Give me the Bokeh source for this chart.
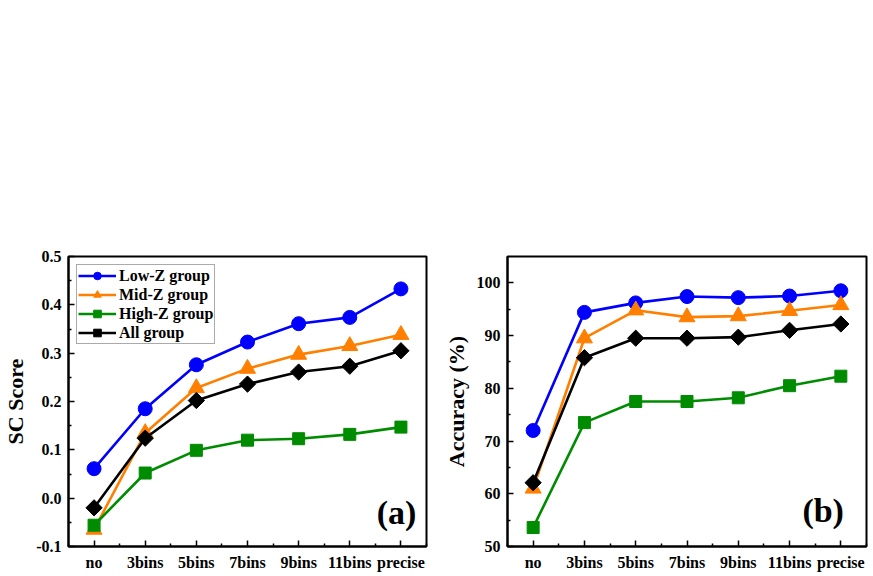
import math
from bokeh.plotting import figure
from bokeh.layouts import column, row
from bokeh.models import Spacer, FixedTicker, NumeralTickFormatter, Label
from bokeh.embed import file_html
from bokeh.resources import INLINE

categories = ["no", "3bins", "5bins", "7bins", "9bins", "11bins", "precise"]
series_names = ["Low-Z group", "Mid-Z group", "High-Z group", "All group"]

sc_low = [0.061, 0.185, 0.276, 0.323, 0.361, 0.374, 0.433]
sc_mid = [-0.065, 0.135, 0.228, 0.268, 0.297, 0.315, 0.338]
sc_high = [-0.056, 0.052, 0.099, 0.120, 0.123, 0.132, 0.147]
sc_all = [-0.020, 0.124, 0.202, 0.236, 0.261, 0.273, 0.305]

acc_low = [72.0, 94.4, 96.2, 97.4, 97.2, 97.5, 98.5]
acc_mid = [61.0, 89.5, 94.8, 93.5, 93.7, 94.7, 95.8]
acc_high = [53.6, 73.5, 77.5, 77.5, 78.2, 80.5, 82.3]
acc_all = [62.1, 85.8, 89.5, 89.5, 89.7, 91.0, 92.2]

sc_ticks = [-0.1, 0.0, 0.1, 0.2, 0.3, 0.4, 0.5]
acc_ticks = [50, 60, 70, 80, 90, 100]

COLORS = ["#0000ff", "#ff7f00", "#008c00", "#000000"]
MARKERS = [("circle", 14, 0), ("triangle", 16, 0), ("square", 12, 0), ("square", 11.5, math.pi / 4)]
FONT = "Liberation Serif"


def make_fig(data, yrange, yticks, yminor, ylabel, fmt, panel, panel_xy, width, border_right, legend):
    p = figure(width=width, height=350, x_range=(-0.5, 6.5), y_range=yrange,
               output_backend="svg", toolbar_location=None,
               min_border_left=62, min_border_right=border_right,
               min_border_top=30, min_border_bottom=30)
    p.grid.visible = False
    p.outline_line_color = "black"
    p.outline_line_width = 2
    p.background_fill_color = "white"
    p.border_fill_color = "white"

    xs = list(range(len(categories)))
    for (vals, name, color, (mk, sz, ang)) in zip(data, series_names, COLORS, MARKERS):
        kw = dict(legend_label=name) if legend else {}
        p.line(xs, vals, line_color=color, line_width=2.6, **kw)
        p.scatter(xs, vals, marker=mk, size=sz, angle=ang, fill_color=color,
                  line_color=color, line_width=1, **kw)

    p.xaxis.ticker = FixedTicker(ticks=xs, minor_ticks=[i + 0.5 for i in range(-1, 7)])
    p.xaxis.major_label_overrides = {i: c for i, c in enumerate(categories)}
    p.yaxis.ticker = FixedTicker(ticks=yticks, minor_ticks=yminor)
    p.yaxis.formatter = NumeralTickFormatter(format=fmt)
    p.yaxis.axis_label = ylabel

    for ax in (p.xaxis[0], p.yaxis[0]):
        ax.axis_line_width = 2
        ax.axis_line_color = "black"
        ax.major_tick_in = 6
        ax.major_tick_out = 0
        ax.minor_tick_in = 3
        ax.minor_tick_out = 0
        ax.major_tick_line_width = 1.5
        ax.minor_tick_line_width = 1.5
        ax.major_label_text_font = FONT
        ax.major_label_text_font_style = "bold"
        ax.major_label_text_font_size = "16px"
        ax.major_label_text_color = "black"
        ax.major_label_standoff = 7
        ax.axis_label_text_font = FONT
        ax.axis_label_text_font_style = "bold"
        ax.axis_label_text_font_size = "22px"
        ax.axis_label_text_color = "black"
        ax.axis_label_standoff = 5

    lab = Label(x=panel_xy[0], y=panel_xy[1], text=panel, text_font=FONT,
                text_font_style="bold", text_font_size="34px", text_align="right",
                text_baseline="bottom", text_color="black")
    p.add_layout(lab)

    if legend:
        lg = p.legend[0]
        lg.location = "top_left"
        lg.margin = 8
        lg.padding = 1
        lg.spacing = 0
        lg.glyph_width = 38
        lg.glyph_height = 19
        lg.label_height = 19
        lg.label_standoff = 3
        lg.label_text_font = FONT
        lg.label_text_font_style = "bold"
        lg.label_text_font_size = "16px"
        lg.label_text_color = "black"
        lg.border_line_color = "#555555"
        lg.border_line_width = 1
        lg.background_fill_alpha = 1.0
    return p


pa = make_fig([sc_low, sc_mid, sc_high, sc_all], (-0.1, 0.5), sc_ticks,
              [-0.05, 0.05, 0.15, 0.25, 0.35, 0.45], "SC Score", "0.0",
              "(a)", (6.3, -0.068), 440, 14, True)
pb = make_fig([acc_low, acc_mid, acc_high, acc_all], (50, 105), acc_ticks,
              [55, 65, 75, 85, 95], "Accuracy (%)", "0",
              "(b)", (6.06, 53.3), 433, 7, False)

layout = column(Spacer(width=873, height=226), row(pa, pb))

open("out.html", "w").write(file_html(layout, INLINE))
